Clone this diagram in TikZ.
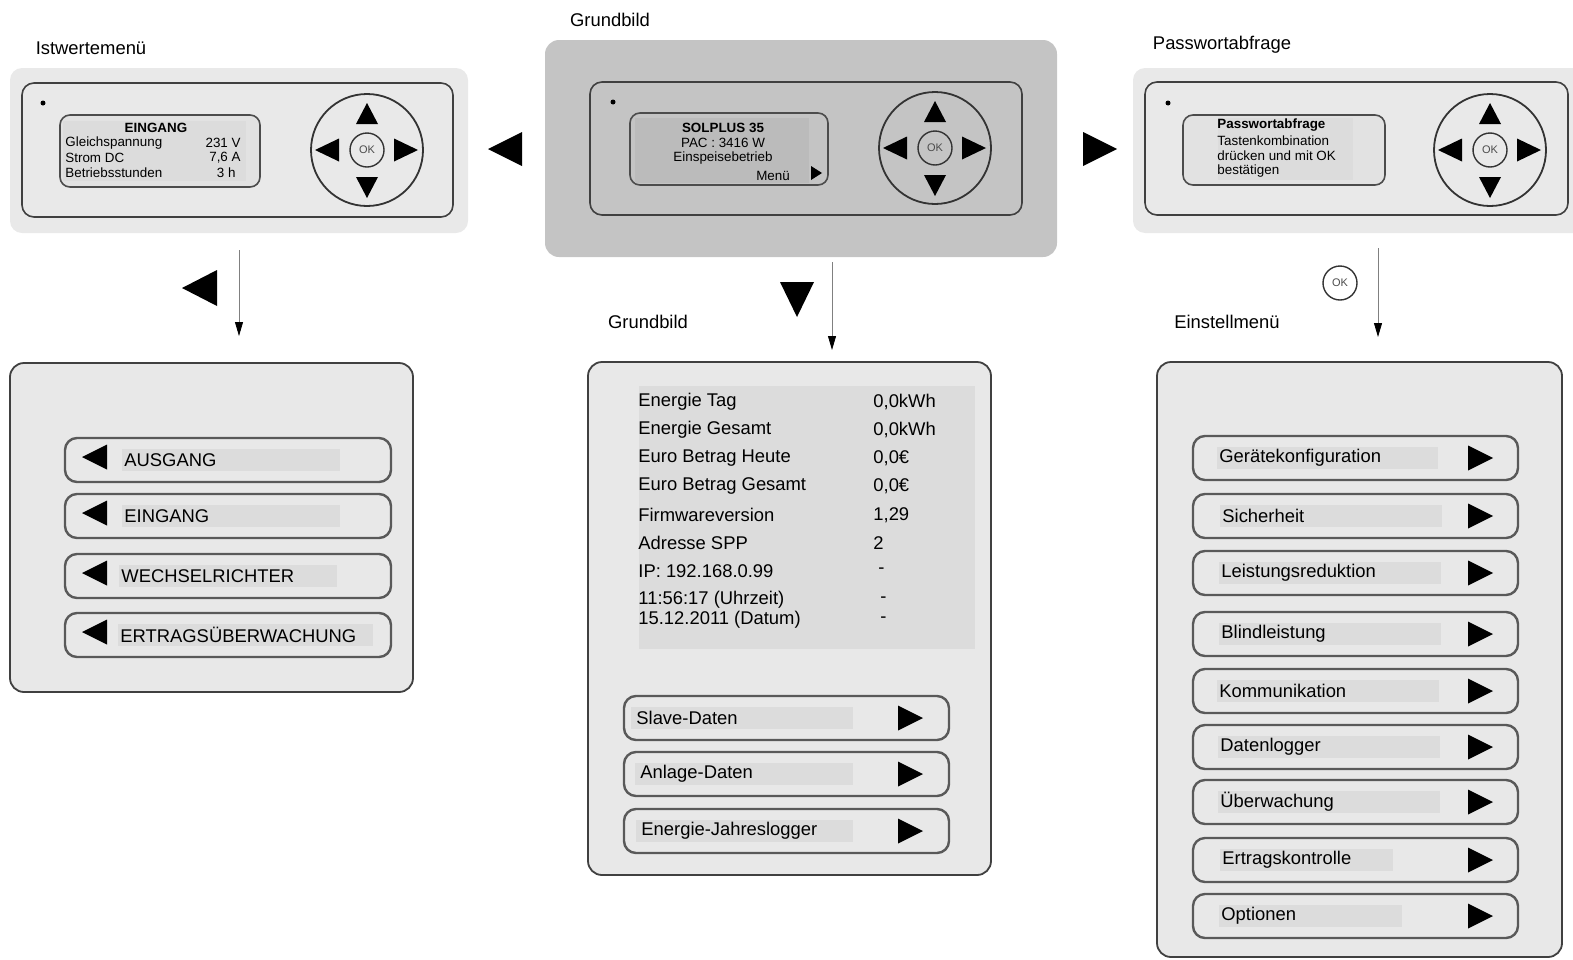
\documentclass[tikz,border=0pt]{standalone}
\usepackage{fontspec}
\setmainfont{Liberation Sans}
\usetikzlibrary{arrows.meta}

\definecolor{casegray}{HTML}{E9E9E9}
\definecolor{centergray}{HTML}{C4C4C4}
\definecolor{panelgray}{HTML}{E8E8E8}
\definecolor{textbg}{HTML}{DCDCDC}
\definecolor{lcdlight}{HTML}{E2E2E2}
\definecolor{lcddark}{HTML}{BBBBBB}

% keypad: ring, four arrow keys and the OK button
\newcommand{\keypad}[3]{%
  \coordinate (#1) at (#2,#3);
  \draw[black!80, line width=0.9pt] (#1) circle[radius=56];
  \fill (#1) ++(0,-47) -- ++(11,21) -- ++(-22,0) -- cycle;
  \fill (#1) ++(0,48) -- ++(11,-21) -- ++(-22,0) -- cycle;
  \fill (#1) ++(-52,0) -- ++(24,-11.5) -- ++(0,23) -- cycle;
  \fill (#1) ++(51,0) -- ++(-24,-11.5) -- ++(0,23) -- cycle;
  \node[okkey] (#1ok) at (#1) {OK};
}

\begin{document}
\begin{tikzpicture}[x=0.5pt, y=-0.5pt,
    >={Triangle[width=4pt,length=7pt,color=black]},
    casing/.style={draw=black!75, line width=0.8pt, rounded corners=6pt},
    lcd/.style={draw=black!70, line width=0.8pt, rounded corners=5pt},
    menupanel/.style={draw=black!75, line width=0.9pt, fill=panelgray, rounded corners=7pt},
    bar/.style={draw=black!65, line width=1.2pt, rounded corners=6pt},
    okkey/.style={draw=black!80, circle, line width=0.7pt, minimum size=17pt,
      inner sep=0pt, font=\fontsize{5.5}{6}\selectfont, text=black!70},
    conn/.style={->, draw=black!50, line width=0.4pt},
    lbl/.style={font=\fontsize{9.2}{11}\selectfont, inner sep=0pt},
    item/.style={font=\fontsize{9.2}{11}\selectfont, inner sep=0pt, anchor=west},
    scr/.style={font=\fontsize{6.7}{7.5}\selectfont, inner sep=0pt}]

\useasboundingbox (0,0) rectangle (1573,959);

% === Titles ===
\node[lbl] (tIst)  at (91,48)   {Istwertemenü};
\node[lbl] (tGrund) at (610,20) {Grundbild};
\node[lbl] (tPass) at (1222,45) {Passwortabfrage};
\node[lbl] (tGrund2) at (648,322) {Grundbild};
\node[lbl] (tEin)  at (1227,322) {Einstellmenü};

% === Istwertemenü display ===
\fill[casegray, rounded corners=6pt] (10,68) rectangle (468,233);
\draw[casing] (22,83) rectangle (453,217);
\fill (43,103) circle[radius=2.5];
\draw[lcd, fill=lcdlight] (60,115) rectangle (260,187);
\fill[textbg] (63,121) rectangle (246,181);
\node[scr, font=\fontsize{6.7}{7.5}\selectfont\bfseries] (eTitle) at (156,128) {EINGANG};
\node[scr, anchor=west] (e1) at (65,143) {Gleichspannung};
\node[scr, anchor=west] (e2) at (65,158) {Strom DC};
\node[scr, anchor=west] (e3) at (65,173) {Betriebsstunden};
\node[scr, anchor=east] (e1v) at (241,143) {231 V};
\node[scr, anchor=east] (e2v) at (241,158) {7,6 A};
\node[scr, anchor=east] (e3v) at (236,173) {3 h};
\keypad{kIst}{367}{150}

% === Grundbild display ===
\fill[centergray, rounded corners=7pt] (545,40) rectangle (1057,257);
\draw[casing] (590,82) rectangle (1022,215);
\fill (613,102) circle[radius=2.5];
\draw[lcd] (630,113) rectangle (828,185);
\fill[lcddark] (635,118) rectangle (809,183);
\node[scr, font=\fontsize{6.7}{7.5}\selectfont\bfseries] (gTitle) at (723,128) {SOLPLUS 35};
\node[scr] (g1) at (723,143) {PAC : 3416 W};
\node[scr] (g2) at (723,158) {Einspeisebetrieb};
\node[scr] (g3) at (773,176) {Menü};
\fill (822,173) -- (811,166) -- (811,180) -- cycle;
\keypad{kGrund}{935}{148}

% === Passwortabfrage display ===
\fill[casegray, rounded corners=6pt] (1133,68) rectangle (1590,233);
\draw[casing] (1145,82) rectangle (1568,215);
\fill (1168,103) circle[radius=2.5];
\draw[lcd, fill=lcdlight] (1183,115) rectangle (1385,185);
\fill[textbg] (1218,118) rectangle (1353,180);
\node[scr, anchor=west, font=\fontsize{6.7}{7.5}\selectfont\bfseries] (pTitle) at (1217,125) {Passwortabfrage};
\node[scr, anchor=west] (p1) at (1217,141) {Tastenkombination};
\node[scr, anchor=west] (p2) at (1217,156) {drücken und mit OK};
\node[scr, anchor=west] (p3) at (1217,171) {bestätigen};
\keypad{kPass}{1490}{150}

% === Key symbols between the screens ===
\fill (488,149) -- (522,132) -- (522,166) -- cycle;
\fill (1117,149) -- (1083,132) -- (1083,166) -- cycle;
\fill (182,288) -- (217,270) -- (217,306) -- cycle;
\fill (797,317) -- (780,282) -- (814,282) -- cycle;
\node[okkey] (okPass) at (1340,283) {OK};

% === Connectors ===
\coordinate (aIst)   at (239,250);
\coordinate (bIst)   at (239,336);
\coordinate (aGrund) at (832,262);
\coordinate (bGrund) at (832,350);
\coordinate (aPass)  at (1378,248);
\coordinate (bPass)  at (1378,337);
\draw[conn] (aIst) -- (bIst);
\draw[conn] (aGrund) -- (bGrund);
\draw[conn] (aPass) -- (bPass);

% === Istwertemenü list ===
\draw[menupanel] (10,363) rectangle (413,692);
\foreach \yc/\tx/\hx/\txt [count=\i] in {460/124/340/AUSGANG, 516/124/340/EINGANG,
    576/121/337/WECHSELRICHTER, 635/120/373/ERTRAGSÜBERWACHUNG} {
  \draw[bar] (65,\yc-22) rectangle (391,\yc+22);
  \fill[textbg] (\tx-2,\yc-11) rectangle (\hx,\yc+11);
  \fill (82,\yc-3) -- (107,\yc-15.5) -- (107,\yc+9.5) -- cycle;
  \node[item] (ist\i) at (\tx,\yc) {\txt};
}

% === Grundbild list ===
\draw[menupanel] (588,362) rectangle (991,875);
\fill[textbg] (639,386) rectangle (975,649);
\node[item] (r1) at (638,402) {Energie Tag};
\node[item] (r2) at (638,430) {Energie Gesamt};
\node[item] (r3) at (638,458) {Euro Betrag Heute};
\node[item] (r4) at (638,486) {Euro Betrag Gesamt};
\node[item] (r5) at (638,515) {Firmwareversion};
\node[item] (r6) at (638,543) {Adresse SPP};
\node[item] (r7) at (638,571) {IP: 192.168.0.99};
\node[item] (r8) at (638,600) {11:56:17 (Uhrzeit)};
\node[item] (r9) at (638,620) {15.12.2011 (Datum)};
\node[item] (v1) at (873,402) {0,0kWh};
\node[item] (v2) at (873,430) {0,0kWh};
\node[item] (v3) at (873,458) {0,0€};
\node[item] (v4) at (873,486) {0,0€};
\node[item] (v5) at (873,515) {1,29};
\node[item] (v6) at (873,543) {2};
\node[item] (v7) at (878,571) {-};
\node[item] (v8) at (880,600) {-};
\node[item] (v9) at (880,620) {-};
\foreach \yc/\tx/\txt [count=\i] in {718/636/Slave-Daten, 774/640/Anlage-Daten,
    831/641/Energie-Jahreslogger} {
  \draw[bar] (624,\yc-22) rectangle (949,\yc+22);
  \fill[textbg] (\tx-5,\yc-11) rectangle (853,\yc+11);
  \fill (923,\yc) -- (898,\yc-12.5) -- (898,\yc+12.5) -- cycle;
  \node[item] (grund\i) at (\tx,\yc) {\txt};
}

% === Einstellmenü list ===
\draw[menupanel] (1157,362) rectangle (1562,957);
\foreach \yc/\tx/\hx/\txt [count=\i] in {458/1219/1438/Gerätekonfiguration,
    516/1222/1442/Sicherheit, 573/1221/1441/Leistungsreduktion,
    634/1221/1441/Blindleistung, 691/1219/1439/Kommunikation,
    747/1220/1440/Datenlogger, 802/1220/1440/Überwachung,
    860/1222/1393/Ertragskontrolle, 916/1221/1402/Optionen} {
  \draw[bar] (1193,\yc-22) rectangle (1518,\yc+22);
  \fill[textbg] (\tx-2,\yc-11) rectangle (\hx,\yc+11);
  \fill (1493,\yc) -- (1468,\yc-12.5) -- (1468,\yc+12.5) -- cycle;
  \node[item] (set\i) at (\tx,\yc) {\txt};
}

\end{tikzpicture}
\end{document}
